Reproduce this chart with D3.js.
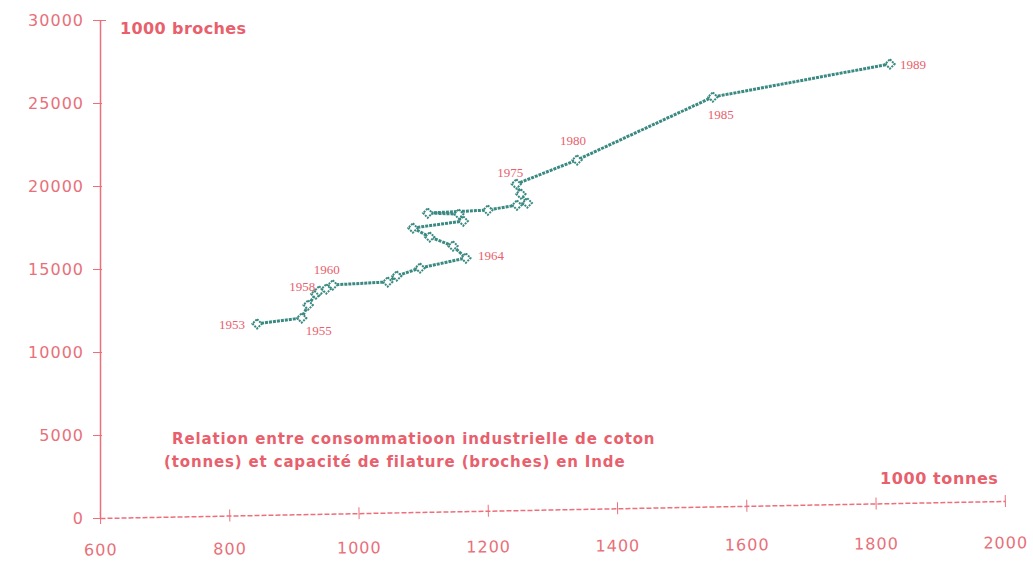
<!DOCTYPE html>
<meta charset="utf-8">
<style>
  body { margin: 0; background: #fff; }
  svg { display: block; }
  .axis text { font-family: "DejaVu Sans", sans-serif; font-size: 16px; fill: #e8707a; letter-spacing: 1px; }
  .axis line, .axis path { stroke: #ec6f7b; }
  .title { font-family: "DejaVu Sans", sans-serif; font-weight: bold; fill: #e8606c; }
  .year { font-family: "Liberation Serif", serif; font-size: 13px; fill: #e8606c; }
</style>
<body>
<svg width="1033" height="561"></svg>
<script src="https://d3js.org/d3.v7.min.js"></script>
<script>

// consumption of cotton (1000 t) and spinning capacity (1000 spindles), India
var years       = [1953, 1955, 1956, 1957, 1958, 1959, 1960, 1961, 1962, 1963, 1964, 1965, 1966, 1967, 1968, 1969, 1970, 1971, 1972, 1973, 1974, 1975, 1980, 1985, 1989];
var consumption = [843, 912, 922, 934, 939, 950, 960, 1045, 1059, 1095, 1166, 1146, 1110, 1084, 1162, 1155, 1107, 1200, 1245, 1261, 1251, 1244, 1338, 1548, 1822];
var spindles    = [11700, 12050, 12830, 13500, 13680, 13800, 14040, 14220, 14580, 15060, 15660, 16390, 16930, 17470, 17890, 18310, 18370, 18550, 18850, 18980, 19520, 20120, 21570, 25360, 27350];

var xTicks = [600, 800, 1000, 1200, 1400, 1600, 1800, 2000];
var yTicks = [0, 5000, 10000, 15000, 20000, 25000, 30000];

// labelled years and where the label sits relative to its point
var labelled = [
  {year: 1953, dx: -12, dy: 5, anchor: "end"},
  {year: 1955, dx: 4, dy: 17, anchor: "start"},
  {year: 1958, dx: -4, dy: 0, anchor: "end"},
  {year: 1960, dx: -6, dy: -11, anchor: "middle"},
  {year: 1964, dx: 12, dy: 2, anchor: "start"},
  {year: 1975, dx: -6, dy: -7, anchor: "middle"},
  {year: 1980, dx: -4, dy: -15, anchor: "middle"},
  {year: 1985, dx: 8, dy: 22, anchor: "middle"},
  {year: 1989, dx: 10, dy: 5, anchor: "start"}
];

var svg = d3.select("svg");
var teal = "#3a8a82";

var x = d3.scaleLinear().domain([600, 2000]).range([100, 1005]);
var y = d3.scaleLinear().domain([0, 30000]).range([518, 20]);

var pts = years.map(function(yr, i) { return {year: yr, x: consumption[i], y: spindles[i]}; });

// y axis
var yAxis = svg.append("g")
  .attr("class", "axis")
  .attr("transform", "translate(" + x(600) + ",0)")
  .call(d3.axisLeft(y).tickValues(yTicks).tickFormat(d3.format("d")).tickSize(7).tickSizeOuter(0).tickPadding(9));
yAxis.select(".domain").attr("stroke-width", 1.5);
yAxis.selectAll(".tick line").attr("x2", -7).attr("x1", 2);
yAxis.selectAll(".tick").filter(function(d) { return d === 30000; }).select("line").attr("x1", 6);

// x axis (slightly tilted as in the scan): line + ticks, then labels with a smaller tilt
var span = x(2000) - x(600);
var angle = Math.atan2(-17, span) * 180 / Math.PI;
var angleLbl = Math.atan2(-7, span) * 180 / Math.PI;
var xAxis = svg.append("g")
  .attr("class", "axis")
  .attr("transform", "translate(0," + y(0) + ") rotate(" + angle + "," + x(600) + ",0)")
  .call(d3.axisBottom(x).tickValues(xTicks).tickFormat("").tickSize(6).tickSizeOuter(0));
xAxis.select(".domain").attr("stroke-dasharray", "5,2").attr("stroke-width", 1.5);
xAxis.selectAll(".tick line").attr("y1", -6).attr("y2", 6);

var xLabels = svg.append("g")
  .attr("class", "axis")
  .attr("transform", "translate(0," + y(0) + ") rotate(" + angleLbl + "," + x(600) + ",0)")
  .call(d3.axisBottom(x).tickValues(xTicks).tickFormat(d3.format("d")).tickSize(0).tickPadding(26));
xLabels.select(".domain").remove();
xLabels.selectAll(".tick text").attr("letter-spacing", "0px");

// data line
var line = d3.line().x(function(d) { return x(d.x); }).y(function(d) { return y(d.y); });
svg.append("path")
  .datum(pts)
  .attr("d", line)
  .attr("fill", "none")
  .attr("stroke", teal)
  .attr("stroke-width", 3)
  .attr("stroke-dasharray", "3,1");

svg.selectAll(".pt")
  .data(pts)
  .enter().append("path")
  .attr("class", "pt")
  .attr("d", d3.symbol(d3.symbolDiamond2, 56))
  .attr("transform", function(d) { return "translate(" + x(d.x) + "," + y(d.y) + ")"; })
  .attr("fill", "#fff")
  .attr("stroke", teal)
  .attr("stroke-width", 2)
  .attr("stroke-dasharray", "2,1");

// year labels
svg.selectAll(".year")
  .data(labelled)
  .enter().append("text")
  .attr("class", "year")
  .attr("x", function(d) { var p = pts[years.indexOf(d.year)]; return x(p.x) + d.dx; })
  .attr("y", function(d) { var p = pts[years.indexOf(d.year)]; return y(p.y) + d.dy; })
  .attr("text-anchor", function(d) { return d.anchor; })
  .text(function(d) { return d.year; });

// titles
svg.append("text").attr("class", "title")
  .attr("x", 120).attr("y", 34)
  .style("font-size", "16px").style("letter-spacing", "0.4px")
  .text("1000 broches");

svg.append("text").attr("class", "title")
  .attr("x", 880).attr("y", 484)
  .style("font-size", "16px").style("letter-spacing", "0.6px")
  .text("1000 tonnes");

svg.append("text").attr("class", "title")
  .attr("x", 172).attr("y", 444)
  .style("font-size", "15px").style("letter-spacing", "0.85px")
  .text("Relation entre consommatioon industrielle de coton");

svg.append("text").attr("class", "title")
  .attr("x", 164).attr("y", 467)
  .style("font-size", "15px").style("letter-spacing", "0.85px")
  .text("(tonnes) et capacité de filature (broches) en Inde");

</script>
</body>
